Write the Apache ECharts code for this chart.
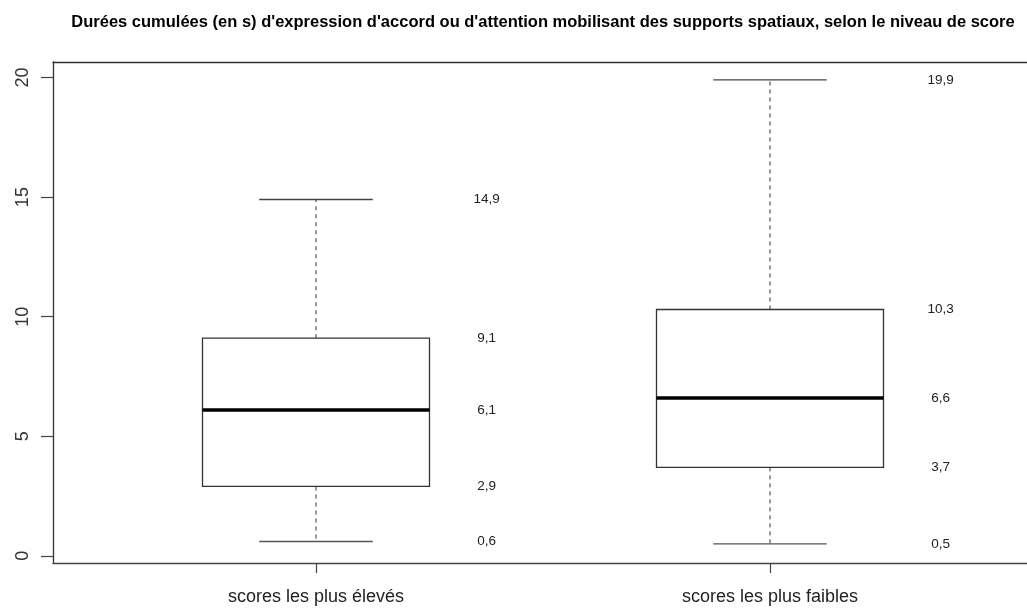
<!DOCTYPE html>
<html>
<head>
<meta charset="utf-8">
<script src="https://cdn.jsdelivr.net/npm/echarts@6/dist/echarts.min.js"></script>
<style>
html,body{margin:0;padding:0;background:#fff;}
#chart{width:1027px;height:610px;}
</style>
</head>
<body>
<div id="chart"></div>
<script>
const titleText = "Durées cumulées (en s) d'expression d'accord ou d'attention mobilisant des supports spatiaux, selon le niveau de score";
const categories = ['scores les plus élevés', 'scores les plus faibles'];
const minValues = [0.6, 0.5];
const q1Values = [2.9, 3.7];
const medianValues = [6.1, 6.6];
const q3Values = [9.1, 10.3];
const maxValues = [14.9, 19.9];
const yTicks = [0, 5, 10, 15, 20];
const xPositions = [1, 2];

const boxData = categories.map((c, i) => [xPositions[i], minValues[i], q1Values[i], medianValues[i], q3Values[i], maxValues[i]]);

const fmt = v => v.toFixed(1).replace('.', ',');
const FONT = '"Liberation Sans", Arial, Helvetica, sans-serif';

function renderItem(params, api) {
  const x = api.value(0);
  const vmin = api.value(1), q1 = api.value(2), med = api.value(3), q3 = api.value(4), vmax = api.value(5);
  const half = 0.25, capHalf = 0.125, labOff = 0.376;
  const pL = api.coord([x - half, q3]);
  const pR = api.coord([x + half, q1]);
  const c = (xx, yy) => api.coord([xx, yy]);
  const children = [];
  const wTop1 = c(x, q3), wTop2 = c(x, vmax), wBot1 = c(x, q1), wBot2 = c(x, vmin);
  children.push({type: 'line', shape: {x1: wTop1[0], y1: wTop1[1], x2: wTop2[0], y2: wTop2[1]}, style: {stroke: '#555', lineWidth: 1.2, lineDash: [4, 4]}});
  children.push({type: 'line', shape: {x1: wBot1[0], y1: wBot1[1], x2: wBot2[0], y2: wBot2[1]}, style: {stroke: '#555', lineWidth: 1.2, lineDash: [4, 4]}});
  const cT1 = c(x - capHalf, vmax), cT2 = c(x + capHalf, vmax), cB1 = c(x - capHalf, vmin), cB2 = c(x + capHalf, vmin);
  children.push({type: 'line', shape: {x1: cT1[0], y1: cT1[1], x2: cT2[0], y2: cT2[1]}, style: {stroke: '#444', lineWidth: 1.3}});
  children.push({type: 'line', shape: {x1: cB1[0], y1: cB1[1], x2: cB2[0], y2: cB2[1]}, style: {stroke: '#555', lineWidth: 1.3}});
  children.push({type: 'rect', shape: {x: pL[0], y: pL[1], width: pR[0] - pL[0], height: pR[1] - pL[1]}, style: {fill: '#fff', stroke: '#333', lineWidth: 1.3}});
  const m1 = c(x - half, med), m2 = c(x + half, med);
  children.push({type: 'line', shape: {x1: m1[0], y1: m1[1], x2: m2[0], y2: m2[1]}, style: {stroke: '#000', lineWidth: 3.5}});
  [vmin, q1, med, q3, vmax].forEach(v => {
    const p = c(x + labOff, v);
    children.push({type: 'text', style: {x: p[0], y: p[1], text: fmt(v), fill: '#222', font: '13.5px ' + FONT, textAlign: 'center', textVerticalAlign: 'middle'}});
  });
  return {type: 'group', children: children};
}

const X_MIN = 0.4207, X_MAX = 2.5661;
const chart = echarts.init(document.getElementById('chart'), null, {renderer: 'canvas'});
chart.setOption({
  animation: false,
  backgroundColor: '#fff',
  title: {
    text: titleText,
    left: 538, top: 9, textAlign: 'center',
    textStyle: {fontFamily: FONT, fontSize: 16.5, fontWeight: 'bold', color: '#000'}
  },
  grid: {left: 53, top: 62, right: 0, bottom: 47, show: false},
  xAxis: [{
    type: 'value', min: X_MIN, max: X_MAX, position: 'bottom',
    splitLine: {show: false},
    axisLine: {show: true, onZero: false, lineStyle: {color: '#444', width: 1.3}},
    axisTick: {show: true, length: 10, customValues: xPositions, lineStyle: {color: '#444', width: 1.2}},
    axisLabel: {show: true, customValues: xPositions, margin: 25, fontFamily: FONT, fontSize: 18, color: '#222',
      formatter: v => categories[xPositions.indexOf(v)] || ''}
  }, {
    type: 'value', min: X_MIN, max: X_MAX, position: 'top',
    splitLine: {show: false},
    axisLine: {show: true, onZero: false, lineStyle: {color: '#333', width: 1.3}},
    axisTick: {show: false},
    axisLabel: {show: false}
  }],
  yAxis: {
    type: 'value', min: -0.3, max: 20.65,
    splitLine: {show: false},
    axisLine: {show: true, onZero: false, lineStyle: {color: '#333', width: 1.3}},
    axisTick: {show: true, length: 12, customValues: yTicks, lineStyle: {color: '#444', width: 1.2}},
    axisLabel: {show: true, customValues: yTicks, rotate: 90, margin: 21, fontFamily: FONT, fontSize: 18, color: '#333'}
  },
  series: [{
    type: 'custom',
    renderItem: renderItem,
    data: boxData,
    encode: {x: 0, y: [1, 2, 3, 4, 5]},
    clip: false
  }]
});
</script>
</body>
</html>
